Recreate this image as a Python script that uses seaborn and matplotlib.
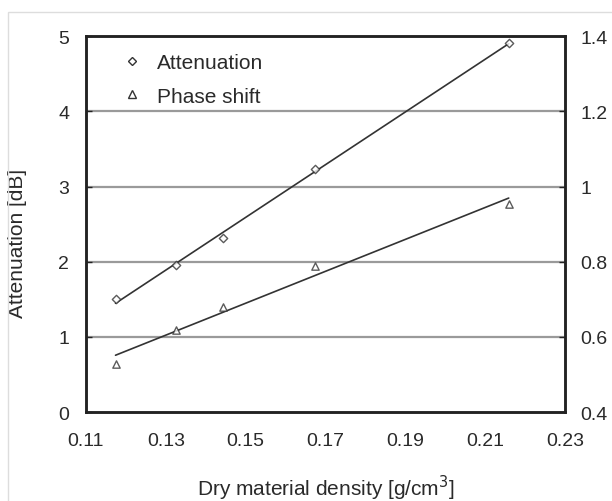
import numpy as np
import pandas as pd
import matplotlib
matplotlib.use("Agg")
import matplotlib.pyplot as plt
from matplotlib.lines import Line2D
import seaborn as sns

# values
density = [0.1174, 0.1326, 0.1444, 0.1674, 0.2159]
attenuation = [1.51, 1.96, 2.31, 3.23, 4.91]
phase_shift = [0.528, 0.618, 0.679, 0.788, 0.953]
x_ticks = [0.11, 0.13, 0.15, 0.17, 0.19, 0.21, 0.23]
left_ticks = [0, 1, 2, 3, 4, 5]
right_ticks = [0.4, 0.6, 0.8, 1.0, 1.2, 1.4]
right_labels = ["0.4", "0.6", "0.8", "1", "1.2", "1.4"]

df = pd.DataFrame({"density": density, "attenuation": attenuation, "phase": phase_shift})

sns.set_style("white")
plt.rcParams["font.family"] = ["Liberation Sans", "DejaVu Sans"]
txt = "#2a2a2a"

fig = plt.figure(figsize=(6.12, 5.02), dpi=100)
ax = fig.add_axes([0.1405, 0.177, 0.7827, 0.749])
ax2 = ax.twinx()

# grid lines on left-axis ticks
for yv in left_ticks[1:-1]:
    ax.axhline(yv, color="#9a9a9a", lw=1.6, zorder=0)

line_kw = dict(color="#333333", lw=1.2)
sns.regplot(data=df, x="density", y="attenuation", ax=ax, ci=None, marker="D",
            scatter_kws=dict(s=18, facecolors="white", edgecolors="#333333", linewidths=1.0, zorder=3),
            line_kws=line_kw)
sns.regplot(data=df, x="density", y="phase", ax=ax2, ci=None, marker="^",
            scatter_kws=dict(s=28, facecolors="white", edgecolors="#333333", linewidths=1.0, zorder=3),
            line_kws=line_kw)

ax.set_xlim(0.11, 0.23)
ax.set_ylim(0, 5)
ax2.set_ylim(0.4, 1.4)
ax.set_xticks(x_ticks)
ax.set_xticklabels([f"{v:.2f}" for v in x_ticks])
ax.set_yticks(left_ticks)
ax2.set_yticks(right_ticks)
ax2.set_yticklabels(right_labels)

for a in (ax, ax2):
    for s in a.spines.values():
        s.set_color("#222222")
        s.set_linewidth(1.8)
    a.tick_params(direction="in", length=4, width=1, colors="#222222", labelcolor=txt, labelsize=14)
ax.tick_params(axis="x", pad=14)
ax.tick_params(axis="y", pad=12)
ax2.tick_params(axis="y", pad=11)

ax.set_xlabel("Dry material density [g/cm$^3$]", fontsize=15, color=txt)
ax.xaxis.set_label_coords(0.5, -0.162)
ax.set_ylabel("Attenuation [dB]", fontsize=15, color=txt)
ax.yaxis.set_label_coords(-0.123, 0.451)
ax2.set_ylabel("")

handles = [
    Line2D([], [], ls="none", marker="D", ms=4.5, mfc="white", mec="#333333", mew=1.0),
    Line2D([], [], ls="none", marker="^", ms=5.5, mfc="white", mec="#333333", mew=1.0),
]
ax.legend(handles, ["Attenuation", "Phase shift"], loc="upper left", frameon=False,
          fontsize=15, handlelength=1.0, handletextpad=0.7, borderpad=0, borderaxespad=0,
          bbox_to_anchor=(0.074, 0.955), labelspacing=0.7, labelcolor=txt)

# faint outer frame like the reference
fig.patches.append(plt.Rectangle((0.013, -0.01), 1.0, 0.984, transform=fig.transFigure,
                                 fill=False, edgecolor="#dddddd", lw=1))

fig.savefig("out.png", dpi=100)
